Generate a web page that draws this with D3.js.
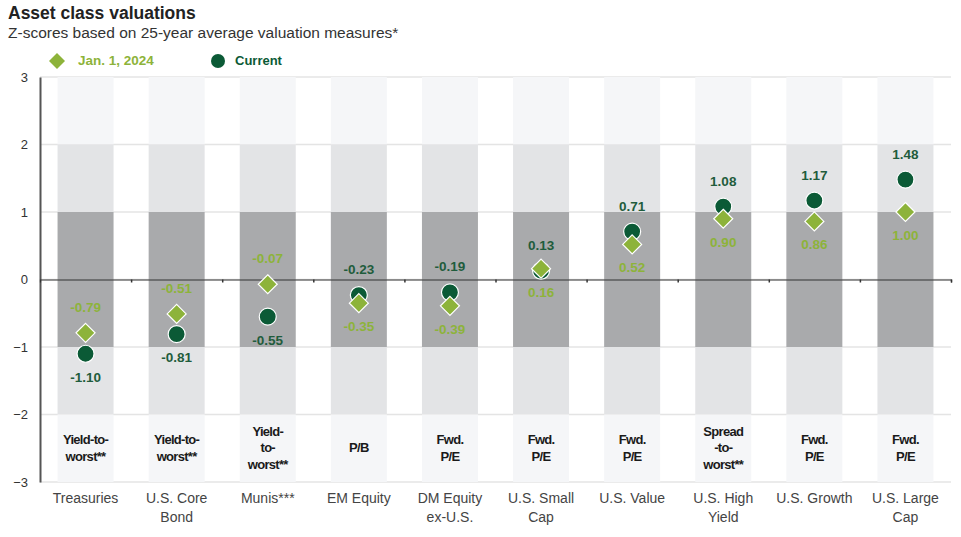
<!DOCTYPE html>
<html>
<head>
<meta charset="utf-8">
<script src="https://cdn.jsdelivr.net/npm/d3@7"></script>
<style>
  body { margin: 0; background: #fff; font-family: "Liberation Sans", Arial, sans-serif; }
</style>
</head>
<body>
<div id="chart"></div>
<script>
// --- Data ---
const categories = ["Treasuries", "U.S. Core Bond", "Munis***", "EM Equity", "DM Equity ex-U.S.",
  "U.S. Small Cap", "U.S. Value", "U.S. High Yield", "U.S. Growth", "U.S. Large Cap"];
const categoryLines = [["Treasuries"], ["U.S. Core", "Bond"], ["Munis***"], ["EM Equity"], ["DM Equity", "ex-U.S."],
  ["U.S. Small", "Cap"], ["U.S. Value"], ["U.S. High", "Yield"], ["U.S. Growth"], ["U.S. Large", "Cap"]];
const metricLines = [["Yield-to-", "worst**"], ["Yield-to-", "worst**"], ["Yield-", "to-", "worst**"], ["P/B"],
  ["Fwd.", "P/E"], ["Fwd.", "P/E"], ["Fwd.", "P/E"], ["Spread", "-to-", "worst**"], ["Fwd.", "P/E"], ["Fwd.", "P/E"]];
const jan2024 = [-0.79, -0.51, -0.07, -0.35, -0.39, 0.16, 0.52, 0.90, 0.86, 1.00];
const current = [-1.10, -0.81, -0.55, -0.23, -0.19, 0.13, 0.71, 1.08, 1.17, 1.48];
const yTicks = [3, 2, 1, 0, -1, -2, -3];
const bands = [
  { lo: 2, hi: 3, fill: "#f5f6f8" }, { lo: 1, hi: 2, fill: "#e3e4e6" },
  { lo: -1, hi: 1, fill: "#a9aaac" },
  { lo: -2, hi: -1, fill: "#e3e4e6" }, { lo: -3, hi: -2, fill: "#f5f6f8" }
];

const colJan = "#8db33a";
const colCur = "#0b5a36";

const W = 961, H = 537;
const plotLeft = 40, plotRight = 951, plotTop = 77, plotBottom = 482;

const svg = d3.select("#chart").append("svg").attr("width", W).attr("height", H);

// --- Title ---
svg.append("text").attr("x", 8).attr("y", 19)
  .attr("font-size", 17.5).attr("font-weight", "bold").attr("fill", "#222")
  .text("Asset class valuations");
svg.append("text").attr("x", 8).attr("y", 38)
  .attr("font-size", 15.5).attr("fill", "#333")
  .text("Z-scores based on 25-year average valuation measures*");

// --- Legend ---
const legend = svg.append("g");
legend.append("path").attr("d", "M0,-8L8,0L0,8L-8,0Z").attr("transform", "translate(57,61)").attr("fill", colJan);
legend.append("text").attr("x", 78).attr("y", 65).attr("font-size", 13.5).attr("font-weight", "bold")
  .attr("fill", colJan).text("Jan. 1, 2024");
legend.append("circle").attr("cx", 218).attr("cy", 61).attr("r", 7).attr("fill", colCur);
legend.append("text").attr("x", 235).attr("y", 65).attr("font-size", 13).attr("font-weight", "bold")
  .attr("fill", colCur).text("Current");

// --- Scales ---
const x = d3.scaleBand().domain(categories).range([plotLeft, plotRight]);
const y = d3.scaleLinear().domain([-3, 3]).range([plotBottom, plotTop]);
const colW = 56;
const cx = c => x(c) + x.bandwidth() / 2;

// gridlines
svg.append("g").selectAll("line").data(yTicks).join("line")
  .attr("x1", plotLeft).attr("x2", plotRight)
  .attr("y1", d => y(d)).attr("y2", d => y(d))
  .attr("stroke", "#e4e4e4").attr("stroke-width", 1.5);

// shaded columns
categories.forEach(c => {
  svg.append("g").selectAll("rect").data(bands).join("rect")
    .attr("x", cx(c) - colW / 2).attr("width", colW)
    .attr("y", b => y(b.hi)).attr("height", b => y(b.lo) - y(b.hi))
    .attr("fill", b => b.fill);
});

// metric labels in bottom band
categories.forEach((c, i) => {
  const lines = metricLines[i];
  const lh = 16.5;
  const cy = y(-2.5) + 4;
  const t = svg.append("text").attr("text-anchor", "middle")
    .attr("font-size", 13).attr("font-weight", "bold").attr("fill", "#1a1a1a")
    .attr("letter-spacing", -0.7);
  lines.forEach((l, j) => {
    t.append("tspan").attr("x", cx(c))
      .attr("y", cy + (j - (lines.length - 1) / 2) * lh).text(l);
  });
});

// y axis
const yAxis = svg.append("g").attr("transform", `translate(${plotLeft},0)`)
  .call(d3.axisLeft(y).tickValues(yTicks).tickFormat(d3.format("d")).tickSize(0).tickPadding(12));
yAxis.select(".domain").attr("stroke", "#555").attr("stroke-width", 2);
yAxis.selectAll("text").attr("font-size", 13).attr("fill", "#333")
  .attr("font-family", "Liberation Sans, Arial, sans-serif");

// zero line with ticks at band boundaries
const xAxis = svg.append("g").attr("transform", `translate(0,${y(0)})`)
  .call(d3.axisBottom(d3.scaleLinear().domain([0, categories.length]).range([plotLeft, plotRight]))
    .tickValues(d3.range(1, categories.length + 1)).tickSize(3).tickFormat(""));
xAxis.select(".domain").attr("stroke", "#333").attr("stroke-width", 1.2);
xAxis.selectAll(".tick line").attr("stroke", "#333").attr("stroke-width", 1.5);

// category labels
categories.forEach((c, i) => {
  const t = svg.append("text").attr("text-anchor", "middle")
    .attr("font-size", 14).attr("fill", "#444");
  categoryLines[i].forEach((l, j) => {
    t.append("tspan").attr("x", cx(c)).attr("y", 503 + j * 19).text(l);
  });
});

// --- Markers ---
const pts = categories.map((c, i) => ({ c, jan: jan2024[i], cur: current[i] }));

svg.append("g").selectAll("circle").data(pts).join("circle")
  .attr("cx", d => cx(d.c)).attr("cy", d => y(d.cur)).attr("r", 8.5)
  .attr("fill", colCur).attr("stroke", "#fff").attr("stroke-width", 1.2);

svg.append("g").selectAll("path").data(pts).join("path")
  .attr("d", "M0,-9.5L9.5,0L0,9.5L-9.5,0Z")
  .attr("transform", d => `translate(${cx(d.c)},${y(d.jan)})`)
  .attr("fill", colJan).attr("stroke", "#fff").attr("stroke-width", 1.2);

// value labels: the clearly higher Jan. value goes above, otherwise current goes above
const lbl = svg.append("g").attr("font-size", 13.5).attr("font-weight", "bold").attr("text-anchor", "middle");
pts.forEach(d => {
  const janHigh = d.jan - d.cur > 0.05;
  const yJan = janHigh ? y(d.jan) - 21 : y(d.jan) + 28;
  const yCur = janHigh ? y(d.cur) + 28 : y(d.cur) - 21;
  lbl.append("text").attr("x", cx(d.c)).attr("y", yJan).attr("fill", colJan).text(d.jan.toFixed(2));
  lbl.append("text").attr("x", cx(d.c)).attr("y", yCur).attr("fill", "#1f5c3c").text(d.cur.toFixed(2));
});
</script>
</body>
</html>
